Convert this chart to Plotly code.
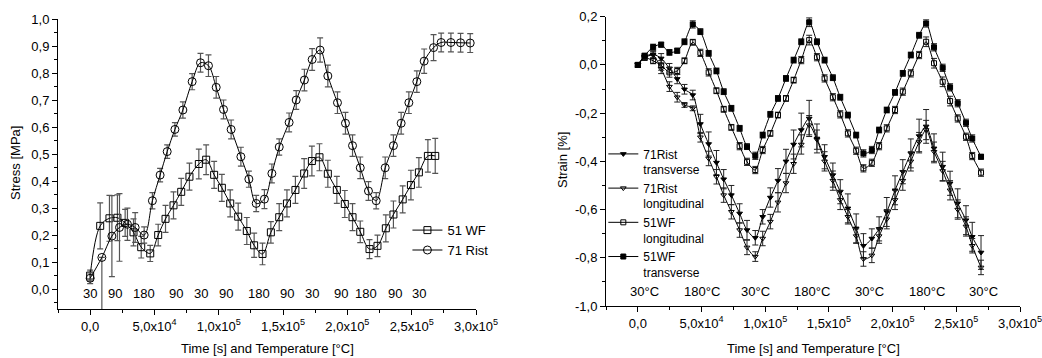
import plotly.graph_objects as go

# ---------------- Left chart: Stress ----------------
wf51_t = [0, 7.8, 15.0, 21.2, 27.2, 33.7, 39.7, 46.7, 52.9, 58.6, 64.8, 70.8, 77.2, 84.5, 90.2, 96.4,
          102.4, 108.9, 115.1, 121.8, 127.5, 134.0, 140.5, 147.0, 153.0, 159.6, 166.4, 172.4, 178.3,
          184.8, 191.8, 198.0, 204.0, 210.0, 217.2, 223.4, 229.9, 235.8, 243.0, 249.4, 255.6, 262.6, 268.3]
wf51_s = [0.05, 0.234, 0.262, 0.264, 0.245, 0.21, 0.155, 0.132, 0.2, 0.26, 0.31, 0.36, 0.416, 0.463, 0.479, 0.423,
          0.375, 0.317, 0.268, 0.215, 0.162, 0.13, 0.21, 0.266, 0.317, 0.367, 0.428, 0.474, 0.488,
          0.427, 0.367, 0.315, 0.266, 0.212, 0.148, 0.16, 0.225, 0.276, 0.332, 0.385, 0.432, 0.493, 0.493]
wf51_e = [0.02, 0.085, 0.085, 0.085, 0.05, 0.05, 0.04, 0.03, 0.04, 0.05, 0.05, 0.05, 0.05, 0.055, 0.055, 0.05,
          0.05, 0.05, 0.05, 0.05, 0.045, 0.04, 0.04, 0.05, 0.05, 0.05, 0.055, 0.055, 0.05,
          0.05, 0.05, 0.05, 0.05, 0.04, 0.035, 0.04, 0.05, 0.05, 0.05, 0.055, 0.055, 0.06, 0.065]

r71_t = [0, 9.1, 16.9, 22.8, 29.0, 35.0, 42.0, 48.4, 54.4, 59.9, 65.9, 72.1, 79.3, 85.8, 92.0, 98.0,
         103.7, 109.6, 117.2, 123.4, 129.1, 135.5, 141.3, 147.0, 154.7, 160.2, 166.6, 172.6, 178.8,
         184.8, 192.3, 198.5, 204.0, 210.0, 216.4, 222.4, 229.4, 235.8, 241.8, 247.8, 254.0, 259.7,
         267.0, 272.9, 280.5, 288.0, 295.5]
r71_s = [0.04, 0.117, 0.196, 0.228, 0.24, 0.228, 0.2, 0.327, 0.422, 0.509, 0.591, 0.663, 0.768, 0.838, 0.827, 0.747,
         0.665, 0.591, 0.49, 0.407, 0.317, 0.333, 0.428, 0.526, 0.617, 0.7, 0.774, 0.85, 0.885,
         0.789, 0.69, 0.614, 0.531, 0.449, 0.363, 0.327, 0.449, 0.531, 0.614, 0.69, 0.768, 0.844,
         0.894, 0.913, 0.913, 0.912, 0.911]
r71_ep = [0.02, 0.0, 0.15, 0.125, 0.06, 0.055, 0.03, 0.03, 0.025, 0.025, 0.025, 0.03, 0.03, 0.035, 0.04, 0.04,
          0.035, 0.035, 0.035, 0.03, 0.03, 0.035, 0.035, 0.03, 0.035, 0.035, 0.04, 0.04, 0.045,
          0.04, 0.04, 0.04, 0.04, 0.04, 0.035, 0.03, 0.04, 0.04, 0.04, 0.04, 0.04, 0.045,
          0.048, 0.035, 0.035, 0.035, 0.035]
r71_em = [0.02, 0.3, 0.15, 0.125, 0.06, 0.055, 0.03, 0.03, 0.025, 0.025, 0.025, 0.03, 0.03, 0.035, 0.04, 0.04,
          0.035, 0.035, 0.035, 0.03, 0.03, 0.035, 0.035, 0.03, 0.035, 0.035, 0.04, 0.04, 0.045,
          0.04, 0.04, 0.04, 0.04, 0.04, 0.035, 0.03, 0.04, 0.04, 0.04, 0.04, 0.04, 0.045,
          0.048, 0.035, 0.035, 0.035, 0.035]

left_temp_x = [0, 19.4, 42, 66.6, 86.3, 105.8, 130.9, 152.9, 172.4, 195, 214.4, 237.2, 256]
left_temp_lbl = ["30", "90", "180", "90", "30", "90", "180", "90", "30", "90", "180", "90", "30"]

# ---------------- Right chart: Strain ----------------
strain_t = [0, 5.3, 12, 18.3, 24.8, 30.9, 36.6, 43.1, 49.1, 55.6, 61.7, 67.4, 73.4, 79.9, 85.7, 92.2,
            98, 104, 110, 116.3, 122.3, 128.3, 134.5, 140.6, 146.6, 153.1, 158.9, 164.9, 171.4, 177.1,
            183.7, 189.4, 195.4, 201.9, 208, 214.3, 220.8, 226.3, 232.5, 239.3, 245.1, 251.1, 257.6, 262.5, 269.4]
wf51_trans = [0.0, 0.038, 0.074, 0.084, 0.052, 0.059, 0.096, 0.168, 0.138, 0.048, -0.025, -0.111, -0.18, -0.263,
              -0.339, -0.377, -0.291, -0.205, -0.139, -0.056, 0.02, 0.096, 0.177, 0.096, 0.02, -0.053, -0.134,
              -0.208, -0.291, -0.367, -0.353, -0.27, -0.187, -0.114, -0.035, 0.041, 0.123, 0.172, 0.073,
              -0.012, -0.093, -0.159, -0.24, -0.305, -0.381]
wf51_long = [0.0, 0.03, 0.017, -0.002, -0.031, -0.025, 0.017, 0.094, 0.05, -0.031, -0.107, -0.184, -0.259, -0.337,
             -0.402, -0.436, -0.353, -0.284, -0.208, -0.139, -0.063, 0.02, 0.103, 0.032, -0.056, -0.134, -0.205,
             -0.284, -0.356, -0.429, -0.406, -0.337, -0.263, -0.187, -0.111, -0.035, 0.041, 0.096, 0.007,
             -0.07, -0.15, -0.222, -0.298, -0.378, -0.447]
r71_trans = [0.0, 0.034, 0.044, 0.027, -0.014, -0.058, -0.101, -0.125, -0.245, -0.328, -0.405, -0.474, -0.54,
             -0.616, -0.685, -0.717, -0.63, -0.55, -0.48, -0.40, -0.33, -0.27, -0.222, -0.305, -0.381, -0.457,
             -0.526, -0.595, -0.678, -0.75, -0.72, -0.68, -0.61, -0.52, -0.443, -0.367, -0.295, -0.255,
             -0.346, -0.422, -0.491, -0.574, -0.644, -0.713, -0.778]
r71_long = [0.0, 0.03, 0.04, -0.016, -0.09, -0.134, -0.166, -0.18, -0.30, -0.388, -0.464, -0.54, -0.609, -0.685,
            -0.757, -0.795, -0.72, -0.65, -0.57, -0.49, -0.41, -0.33, -0.25, -0.31, -0.40, -0.48, -0.56, -0.63,
            -0.71, -0.805, -0.79, -0.71, -0.64, -0.56, -0.48, -0.40, -0.32, -0.27, -0.36, -0.44, -0.52, -0.60,
            -0.67, -0.75, -0.84]
wf51_trans_e = [0.005, 0.01, 0.012, 0.01, 0.012, 0.01, 0.012, 0.015, 0.012, 0.012, 0.012, 0.012, 0.012, 0.012,
                0.012, 0.015, 0.012, 0.012, 0.012, 0.012, 0.012, 0.012, 0.018, 0.012, 0.012, 0.012, 0.012,
                0.012, 0.012, 0.015, 0.015, 0.012, 0.012, 0.012, 0.012, 0.012, 0.012, 0.015, 0.015,
                0.015, 0.015, 0.015, 0.015, 0.015, 0.01]
wf51_long_e = [0.005, 0.01, 0.012, 0.02, 0.02, 0.015, 0.012, 0.012, 0.015, 0.015, 0.012, 0.012, 0.012, 0.015,
               0.015, 0.015, 0.015, 0.012, 0.012, 0.012, 0.012, 0.015, 0.02, 0.015, 0.015, 0.015, 0.015,
               0.015, 0.015, 0.015, 0.015, 0.015, 0.015, 0.015, 0.015, 0.015, 0.015, 0.02, 0.02,
               0.02, 0.02, 0.015, 0.015, 0.015, 0.015]
r71_trans_e = [0.01, 0.01, 0.015, 0.02, 0.02, 0.02, 0.02, 0.02, 0.04, 0.05, 0.05, 0.04, 0.04, 0.04, 0.04, 0.03,
               0.03, 0.04, 0.05, 0.05, 0.06, 0.07, 0.075, 0.06, 0.05, 0.05, 0.05, 0.06, 0.06, 0.05,
               0.04, 0.05, 0.06, 0.06, 0.05, 0.06, 0.07, 0.07, 0.06, 0.06, 0.05, 0.06, 0.06, 0.06, 0.07]
r71_long_e = [0.01, 0.01, 0.015, 0.02, 0.02, 0.02, 0.01, 0.01, 0.02, 0.03, 0.03, 0.03, 0.03, 0.03, 0.03, 0.02,
              0.03, 0.03, 0.04, 0.04, 0.04, 0.04, 0.04, 0.04, 0.04, 0.04, 0.04, 0.03, 0.03, 0.03,
              0.03, 0.03, 0.04, 0.04, 0.04, 0.04, 0.04, 0.04, 0.04, 0.04, 0.04, 0.04, 0.04, 0.03, 0.03]

right_temp_x = [5.5, 50.5, 92.2, 136.7, 181.6, 226.8, 271.2]
right_temp_lbl = ["30°C", "180°C", "30°C", "180°C", "30°C", "180°C", "30°C"]

x_tickvals = [0, 50000, 100000, 150000, 200000, 250000, 300000]
x_ticktext = ["0,0", "5,0x10<sup>4</sup>", "1,0x10<sup>5</sup>", "1,5x10<sup>5</sup>",
              "2,0x10<sup>5</sup>", "2,5x10<sup>5</sup>", "3,0x10<sup>5</sup>"]
yl_vals = [i / 10 for i in range(11)]
yl_text = ["0,%d" % i for i in range(10)] + ["1,0"]
yr_vals = [-1.0, -0.8, -0.6, -0.4, -0.2, 0.0, 0.2]
yr_text = ["-1,0", "-0,8", "-0,6", "-0,4", "-0,2", "0,0", "0,2"]

x_title = "Time [s] and Temperature [°C]"
yl_title = "Stress [MPa]"
yr_title = "Strain [%]"

FONT = "Liberation Sans, Arial, sans-serif"
LERR = "#555555"
RERR = "#222222"

W, H = 1042, 358
LX = [58 / W, 476 / W]
LY = [(H - 309.3) / H, (H - 19) / H]
RX = [606 / W, 1020 / W]
RY = [(H - 306) / H, (H - 16.7) / H]

fig = go.Figure()

def k(lst):
    return [v * 1000 for v in lst]

fig.add_trace(go.Scatter(
    x=k(wf51_t), y=wf51_s, name="51 WF", mode="lines+markers", xaxis="x", yaxis="y", legend="legend",
    line=dict(color="black", width=1, shape="spline", smoothing=1.0),
    marker=dict(symbol="square-open", size=7, color="black", line=dict(width=1)),
    error_y=dict(type="data", array=wf51_e, color=LERR, thickness=1.2, width=3)))
fig.add_trace(go.Scatter(
    x=k(r71_t), y=r71_s, name="71 Rist", mode="lines+markers", xaxis="x", yaxis="y", legend="legend",
    line=dict(color="black", width=1, shape="spline", smoothing=1.0),
    marker=dict(symbol="circle-open", size=8, color="black", line=dict(width=1)),
    error_y=dict(type="data", array=r71_ep, arrayminus=r71_em, symmetric=False, color=LERR, thickness=1.2, width=3)))

right_series = [
    ("71Rist<br>transverse", r71_trans, r71_trans_e, "triangle-down"),
    ("71Rist<br>longitudinal", r71_long, r71_long_e, "triangle-down-open"),
    ("51WF<br>longitudinal", wf51_long, wf51_long_e, "square-open"),
    ("51WF<br>transverse", wf51_trans, wf51_trans_e, "square"),
]
for name, ys, es, sym in right_series:
    fig.add_trace(go.Scatter(
        x=k(strain_t), y=ys, name=name, mode="lines+markers", xaxis="x2", yaxis="y2", legend="legend2",
        line=dict(color="black", width=1, shape="spline", smoothing=0.8),
        marker=dict(symbol=sym, size=5, color="black", line=dict(width=1, color="black")),
        error_y=dict(type="data", array=es, color=RERR, thickness=1, width=3)))

annotations = []
for xv, t in zip(left_temp_x, left_temp_lbl):
    annotations.append(dict(x=xv * 1000, y=-0.015, xref="x", yref="y", text=t, showarrow=False,
                            font=dict(size=13, color="black", family=FONT)))
for xv, t in zip(right_temp_x, right_temp_lbl):
    annotations.append(dict(x=xv * 1000, y=-0.94, xref="x2", yref="y2", text=t, showarrow=False,
                            font=dict(size=13, color="black", family=FONT)))
# axis titles
annotations += [
    dict(x=(LX[0] + LX[1]) / 2, y=(H - 348) / H, xref="paper", yref="paper", text=x_title, showarrow=False,
         font=dict(size=13, color="black", family=FONT), xanchor="center", yanchor="middle"),
    dict(x=(RX[0] + RX[1]) / 2, y=(H - 348) / H, xref="paper", yref="paper", text=x_title, showarrow=False,
         font=dict(size=13, color="black", family=FONT), xanchor="center", yanchor="middle"),
    dict(x=15 / W, y=(H - 163) / H, xref="paper", yref="paper", text=yl_title, showarrow=False, textangle=-90,
         font=dict(size=13, color="black", family=FONT), xanchor="center", yanchor="middle"),
    dict(x=562 / W, y=(H - 160) / H, xref="paper", yref="paper", text=yr_title, showarrow=False, textangle=-90,
         font=dict(size=13, color="black", family=FONT), xanchor="center", yanchor="middle"),
]

axis_common = dict(showline=True, linecolor="black", linewidth=1, ticks="outside", ticklen=5,
                   tickcolor="black", showgrid=False, zeroline=False, automargin=False,
                   ticklabeloverflow="allow",
                   tickfont=dict(size=13, color="black", family=FONT))

fig.update_layout(
    width=W, height=H, margin=dict(l=0, r=0, t=0, b=0, pad=0),
    paper_bgcolor="white", plot_bgcolor="white",
    font=dict(family=FONT, size=13, color="black"),
    xaxis=dict(domain=LX, range=[-25000, 300000], tickvals=x_tickvals, ticktext=x_ticktext,
               minor=dict(ticks="outside", ticklen=3, dtick=25000, tick0=0, tickcolor="black"),
               anchor="y", **axis_common),
    yaxis=dict(domain=LY, range=[-0.075, 1.0], tickvals=yl_vals, ticktext=yl_text,
               minor=dict(ticks="outside", ticklen=3, dtick=0.05, tick0=0, tickcolor="black"),
               anchor="x", **axis_common),
    xaxis2=dict(domain=RX, range=[-25000, 300000], tickvals=x_tickvals, ticktext=x_ticktext,
                minor=dict(ticks="outside", ticklen=3, dtick=25000, tick0=0, tickcolor="black"),
                anchor="y2", **axis_common),
    yaxis2=dict(domain=RY, range=[-1.0, 0.2], tickvals=yr_vals, ticktext=yr_text,
                minor=dict(ticks="outside", ticklen=3, dtick=0.1, tick0=0, tickcolor="black"),
                anchor="x2", **axis_common),
    legend=dict(x=0.391, y=0.399, xanchor="left", yanchor="top", bgcolor="rgba(0,0,0,0)",
                font=dict(size=13, family=FONT), itemwidth=30, tracegroupgap=0),
    legend2=dict(x=0.579, y=0.61, xanchor="left", yanchor="top", bgcolor="rgba(0,0,0,0)",
                 font=dict(size=12, family=FONT), itemwidth=30, valign="top", tracegroupgap=0),
    annotations=annotations,
    showlegend=True,
)

fig.write_html("out.html", config={"displayModeBar": False},
               post_script="document.body.style.margin='0px';document.body.style.padding='0px';")
